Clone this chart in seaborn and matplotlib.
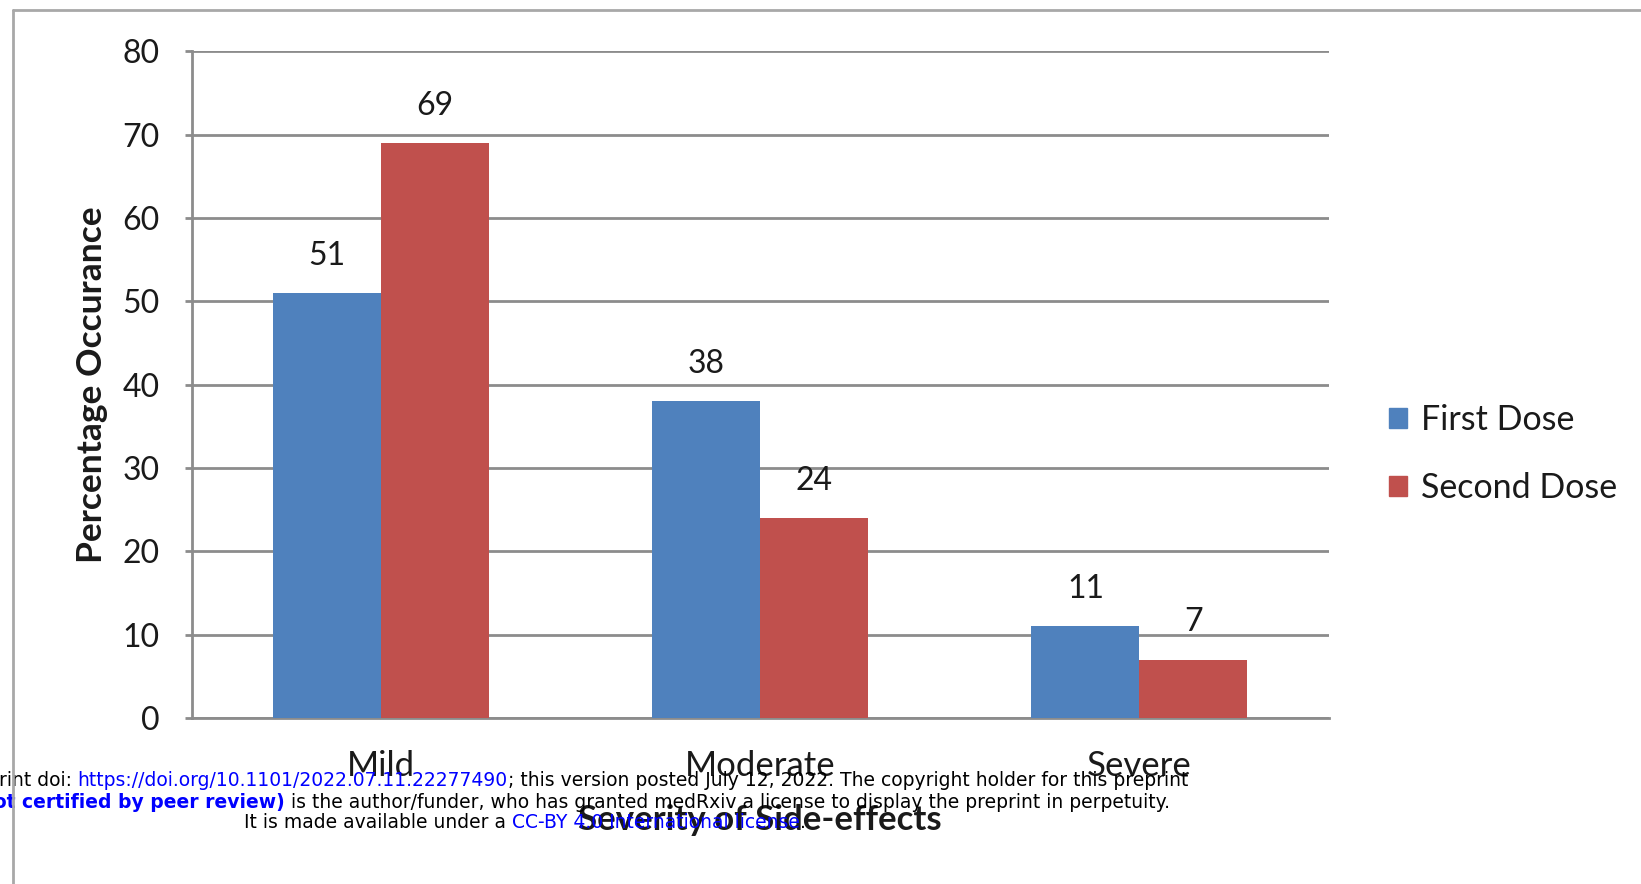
import matplotlib.pyplot as plt
import numpy as np
import pandas as pd
import seaborn as sns
from matplotlib.lines import Line2D

# chart values
severity = ["Mild", "Moderate", "Severe"]
doses = ["First Dose", "Second Dose"]
first_dose = [51, 38, 11]
second_dose = [69, 24, 7]
colors = ["#4F81BD", "#C0504D"]
y_ticks = [0, 10, 20, 30, 40, 50, 60, 70, 80]

df = pd.DataFrame({
    "severity": severity * 2,
    "dose": [doses[0]] * 3 + [doses[1]] * 3,
    "pct": first_dose + second_dose,
})

sns.set_theme(style="white")
plt.rcParams["font.family"] = ["Lato", "DejaVu Sans"]

W, H = 1641, 884
fig = plt.figure(figsize=(W / 100, H / 100), dpi=100)
ax = fig.add_axes([191.5 / W, 1 - 718 / H, (1329 - 191.5) / W, (718 - 51.3) / H])

sns.barplot(data=df, x="severity", y="pct", hue="dose", palette=colors,
            saturation=1, width=0.57, gap=0, ax=ax, legend=False, zorder=3,
            linewidth=0)

ax.set_xlim(-0.5, 2.5)
ax.set_ylim(0, 80)
ax.set_yticks(y_ticks)
grid_c = "#8c8c8c"
ax.yaxis.grid(True, color=grid_c, linewidth=2)
ax.set_axisbelow(True)
for s in ["top", "right"]:
    ax.spines[s].set_visible(False)
ax.spines["left"].set_color(grid_c)
ax.spines["left"].set_linewidth(2)
ax.spines["bottom"].set_color(grid_c)
ax.spines["bottom"].set_linewidth(2)
ax.tick_params(axis="y", length=5, width=2, color=grid_c, pad=18,
               labelsize=23, labelcolor="#1a1a1a", left=True)
ax.tick_params(axis="x", length=0, pad=23, labelsize=25, labelcolor="#1a1a1a")

for cont in ax.containers:
    ax.bar_label(cont, fmt="%d", padding=16, fontsize=23, color="#1a1a1a")

ax.set_xlabel("Severity of Side-effects", fontsize=25, fontweight="bold",
              color="#1a1a1a", va="center")
ax.xaxis.set_label_coords(0.5, -0.1525)
ax.set_ylabel("Percentage Occurance", fontsize=25.5, fontweight="bold",
              color="#1a1a1a", va="center")
ax.yaxis.set_label_coords(-0.0875, 0.5)

handles = [plt.Rectangle((0, 0), 1, 1, color=c) for c in colors]
fig.legend(handles, doses, loc="center left",
           bbox_to_anchor=(1358 / W, 1 - 454 / H), frameon=False,
           fontsize=24.5, handlelength=0.55, handleheight=0.55,
           handletextpad=0.4, labelspacing=1.06, labelcolor="#1a1a1a")

# page border
border = "#a8a8a8"
fig.add_artist(Line2D([12.6 / W, 1], [1 - 10 / H, 1 - 10 / H],
                      transform=fig.transFigure, color=border, lw=2))
fig.add_artist(Line2D([12.6 / W, 12.6 / W], [0, 1 - 10 / H],
                      transform=fig.transFigure, color=border, lw=2))

# medRxiv overlay text
ofont = ["DejaVu Sans"]
osize = 13.5
blue = "#0000ff"
t = ax.annotate("; this version posted July 12, 2022. The copyright holder for this preprint",
                xy=(1188, H - 780), xycoords="figure pixels", ha="right", va="center",
                fontsize=osize, family=ofont, color="black")
t = ax.annotate("https://doi.org/10.1101/2022.07.11.22277490", xy=(0, 0), xycoords=t,
                ha="right", va="bottom", fontsize=osize, family=ofont, color=blue)
ax.annotate("medRxiv preprint doi: ", xy=(0, 0), xycoords=t,
            ha="right", va="bottom", fontsize=osize, family=ofont, color="black")

t = ax.annotate(" is the author/funder, who has granted medRxiv a license to display the preprint in perpetuity.",
                xy=(1170, H - 802), xycoords="figure pixels", ha="right", va="center",
                fontsize=osize, family=ofont, color="black")
ax.annotate("(which was not certified by peer review)", xy=(0, 0), xycoords=t,
            ha="right", va="bottom", fontsize=osize, family=ofont, color=blue,
            fontweight="bold")

t = ax.annotate("It is made available under a ", xy=(244, H - 823),
                xycoords="figure pixels", ha="left", va="center",
                fontsize=osize, family=ofont, color="black")
t = ax.annotate("CC-BY 4.0 International license", xy=(1, 0), xycoords=t,
                ha="left", va="bottom", fontsize=osize, family=ofont, color=blue)
ax.annotate(".", xy=(1, 0), xycoords=t, ha="left", va="bottom",
            fontsize=osize, family=ofont, color="black")

fig.savefig("out.png", dpi=100)
